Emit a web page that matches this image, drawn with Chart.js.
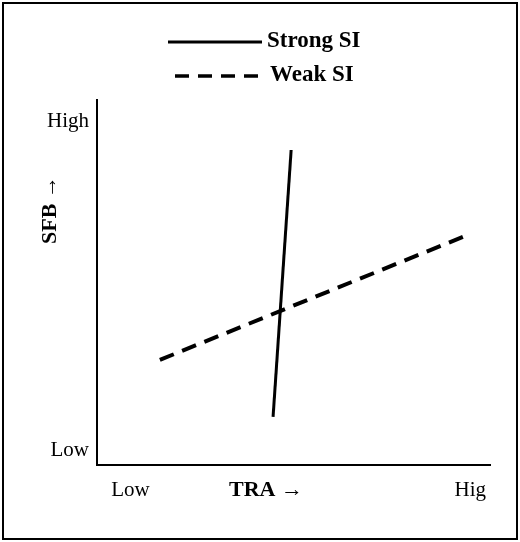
<!DOCTYPE html>
<html><head><meta charset="utf-8">
<script src="https://cdn.jsdelivr.net/npm/chart.js@4/dist/chart.umd.min.js"></script>
<style>
html,body{margin:0;padding:0;background:#fff}
#wrap{position:absolute;left:2px;top:2px;width:512px;height:534px;border:2px solid #000}
canvas{position:absolute;left:-4px;top:-4px}
</style></head><body>
<div id="wrap"><canvas id="c" width="520" height="542"></canvas></div>
<script>
const seriesNames = ["Strong SI", "Weak SI"];
const strongSI = [{x:0.448,y:0.132},{x:0.494,y:0.863}];
const weakSI = [{x:0.160,y:0.288},{x:0.931,y:0.625}];
const xTicks = [{value:0.085,label:"Low"},{value:0.95,label:"Hig"}];
const yTicks = [{value:0.94,label:"High"},{value:0.04,label:"Low"}];
const xTitle = "TRA →", yTitle = "SFB →";

const font = "Liberation Serif";
const textPlugin = {
  id:'lg',
  afterDraw(ch){
    const c = ch.ctx; c.save();
    c.strokeStyle='#000'; c.lineWidth=3;
    c.beginPath(); c.moveTo(168,42); c.lineTo(262,42); c.stroke();
    c.lineWidth=3.5; c.setLineDash([14,9]); c.beginPath(); c.moveTo(175,76); c.lineTo(265,76); c.stroke();
    c.setLineDash([]);
    c.fillStyle='#000'; c.font='bold 23px "'+font+'"'; c.textBaseline='middle';
    c.fillText(seriesNames[0],267,41); c.fillText(seriesNames[1],270,75);
    c.font='bold 22px "'+font+'"'; c.textAlign='center';
    c.fillText(xTitle,266,490);
    c.translate(50,210); c.rotate(-Math.PI/2); c.fillText(yTitle,0,0);
    c.restore();
  }
};
new Chart(document.getElementById('c'),{
  type:'scatter',
  data:{datasets:[
    {label:seriesNames[0],data:strongSI,showLine:true,borderColor:'#000',borderWidth:3,pointRadius:0},
    {label:seriesNames[1],data:weakSI,showLine:true,borderColor:'#000',borderWidth:4,borderDash:[15,9],pointRadius:0}
  ]},
  options:{
    responsive:false,animation:false,
    layout:{padding:{left:0,top:100,right:30,bottom:0}},
    plugins:{legend:{display:false},tooltip:{enabled:false}},
    scales:{
      x:{min:0,max:1,grid:{display:false,drawTicks:false},border:{color:'#000',width:2},
        afterBuildTicks(s){s.ticks=xTicks.map(t=>({value:t.value}));},
        afterFit(s){s.height=77;},
        ticks:{color:'#000',padding:13,font:{family:font,size:21},callback:(v)=>{const t=xTicks.find(t=>t.value===v);return t?t.label:'';}}},
      y:{min:0,max:1,grid:{display:false,drawTicks:false},border:{color:'#000',width:2},
        afterBuildTicks(s){s.ticks=yTicks.map(t=>({value:t.value}));},
        afterFit(s){s.width=97;},
        ticks:{color:'#000',padding:8,font:{family:font,size:21},callback:(v)=>{const t=yTicks.find(t=>t.value===v);return t?t.label:'';}}}
    }
  },
  plugins:[textPlugin]
});
</script></body></html>
